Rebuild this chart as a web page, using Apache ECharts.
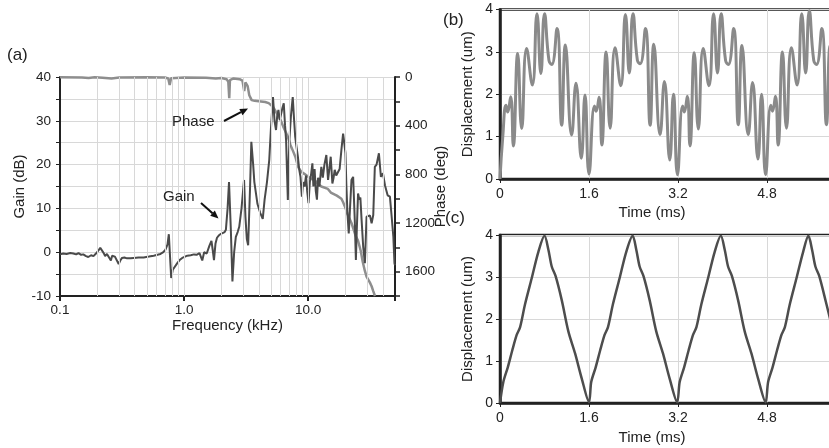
<!DOCTYPE html>
<html>
<head>
<meta charset="utf-8">
<script src="https://cdn.jsdelivr.net/npm/echarts@6/dist/echarts.min.js"></script>
<style>
  html, body { margin: 0; padding: 0; background: #fff; }
  #chart { width: 829px; height: 448px; }
</style>
</head>
<body>
<div id="chart"></div>
<script>
// (a) frequency response: [kHz, dB] and [kHz, deg]
const gainData = [
  [0.100,-0.5],[0.106,-0.3],[0.113,-0.4],[0.121,-0.2],[0.128,-0.3],[0.135,-0.5],[0.141,-0.2],[0.148,-0.6],
  [0.154,-0.5],[0.162,-0.9],[0.169,-1.1],[0.178,-0.7],[0.186,-0.9],[0.195,-0.3],[0.204,0.4],[0.211,1.0],
  [0.218,0.8],[0.225,-0.2],[0.231,-0.9],[0.239,-0.4],[0.246,-0.5],[0.257,-1.9],[0.263,-0.8],[0.270,-0.6],
  [0.277,-1.0],[0.284,-1.2],[0.297,-2.7],[0.306,-1.9],[0.316,-1.3],[0.330,-1.2],[0.347,-1.4],[0.370,-1.4],
  [0.392,-1.3],[0.430,-1.2],[0.472,-1.2],[0.520,-1.0],[0.569,-0.8],[0.610,-0.6],[0.645,-0.4],[0.680,0.0],
  [0.708,0.6],[0.735,1.8],[0.753,4.1],[0.770,-1.0],[0.787,-5.9],[0.810,-4.0],[0.826,-3.6],[0.881,-2.5],
  [0.920,-1.8],[0.966,-1.3],[1.061,-0.8],[1.130,-0.7],[1.200,-0.5],[1.260,-0.6],[1.330,-0.2],[1.400,-1.9],
  [1.450,0.0],[1.520,-0.3],[1.600,1.5],[1.660,2.6],[1.700,0.5],[1.740,-1.8],[1.790,2.0],[1.840,3.3],
  [1.900,3.8],[1.980,4.2],[2.050,4.0],[2.120,4.6],[2.170,5.1],[2.240,10.0],[2.300,16.0],[2.380,5.0],
  [2.450,-6.7],[2.530,0.0],[2.610,3.5],[2.700,4.6],[2.780,5.8],[2.900,10.0],[3.040,16.5],[3.120,8.0],
  [3.200,3.0],[3.280,1.6],[3.400,15.0],[3.480,25.2],[3.600,20.0],[3.680,16.0],[3.900,11.0],[4.100,9.0],
  [4.300,7.6],[4.450,12.0],[4.650,16.0],[4.850,21.0],[5.000,28.0],[5.200,35.4],[5.350,30.0],[5.500,27.9],
  [5.620,31.0],[5.750,32.5],[5.900,30.2],[6.050,30.5],[6.200,33.0],[6.350,34.0],[6.500,29.0],[6.630,25.6],
  [6.750,18.0],[6.850,11.9],[6.950,20.0],[7.060,26.0],[7.250,31.0],[7.500,35.4],[7.700,30.0],[7.850,26.4],
  [8.050,24.0],[8.250,21.8],[8.450,19.0],[8.660,17.2],[8.890,12.7],[9.100,16.0],[9.340,15.0],[9.600,17.5],
  [9.800,14.0],[10.05,11.2],[10.30,16.0],[10.57,18.0],[10.80,20.3],[11.00,15.0],[11.25,19.0],[11.50,14.0],
  [11.75,12.0],[12.00,17.0],[12.30,15.0],[12.75,19.5],[13.10,17.0],[13.50,20.0],[13.99,22.2],[14.44,16.5],
  [14.80,19.0],[15.17,21.8],[15.65,15.7],[16.00,17.0],[16.34,18.8],[16.80,17.5],[17.39,17.2],[17.90,19.0],
  [18.49,23.3],[19.09,27.1],[19.50,25.0],[19.94,22.6],[20.30,15.0],[20.70,8.9],[21.20,4.3],[21.70,10.0],
  [22.30,16.5],[23.00,17.2],[23.70,7.4],[24.20,-1.8],[24.60,5.0],[25.20,13.4],[25.80,12.0],[26.30,12.5],
  [26.90,7.4],[27.70,1.3],[28.60,-2.5],[29.50,8.1],[30.50,8.0],[31.40,8.4],[32.40,6.6],[33.40,8.5],
  [34.40,19.5],[35.50,20.0],[37.10,22.6],[38.50,17.2],[40.00,18.0],[41.50,15.3],[43.60,13.0],[45.50,12.7],
  [47.00,8.1],[48.50,3.5],[49.50,-2.5],[50.00,-3.0]
];
const phaseData = [
  [0.10,2],[0.15,4],[0.17,8],[0.19,3],[0.22,6],[0.26,12],[0.30,5],[0.50,3],[0.70,4],[0.745,12],[0.765,65],
  [0.785,10],[1.0,5],[1.5,6],[1.8,12],[2.0,8],[2.2,18],[2.27,40],[2.31,175],[2.34,25],[2.5,12],[2.8,18],
  [2.95,30],[3.05,115],[3.12,45],[3.25,75],[3.35,150],[3.5,190],[3.7,196],[4.0,200],[4.5,206],[4.8,215],
  [5.2,245],[5.6,300],[5.8,330],[6.0,355],[6.3,410],[6.5,440],[6.7,470],[6.85,493],[7.2,560],[7.5,603],
  [7.9,660],[8.3,741],[8.8,780],[9.3,796],[10.0,820],[10.6,837],[11.3,850],[12.0,878],[12.75,900],[14.4,920],
  [15.2,950],[17.0,975],[18.5,1000],[19.1,1030],[20.0,1080],[20.7,1126],[22.3,1200],[24.0,1300],[25.2,1346],
  [26.5,1430],[27.5,1520],[28.6,1594],[29.5,1640],[31.4,1690],[32.4,1720],[33.4,1760],[34.5,1800]
];
// log grid lines between the decades
const freqGrid = [0.2,0.3,0.4,0.5,0.6,0.7,0.8,0.9,1,2,3,4,5,6,7,8,9,10,20,30,40];

// (b) displacement with ringing, time in ms, um
const timeB = [
  0,0.05,0.108,0.138,0.192,0.24,0.318,0.39,0.479,0.581,0.665,0.735,0.80,0.88,0.93,1.025,1.109,1.175,1.288,1.366,1.462,1.528,1.6,
  1.698,1.728,1.782,1.83,1.908,1.98,2.069,2.171,2.255,2.325,2.39,2.47,2.52,2.615,2.699,2.765,2.878,2.956,3.052,3.118,3.19,
  3.283,3.313,3.367,3.415,3.493,3.565,3.654,3.756,3.84,3.91,3.975,4.055,4.105,4.2,4.284,4.35,4.463,4.541,4.637,4.703,4.775,
  4.868,4.898,4.952,5.0,5.078,5.15,5.239,5.341,5.425,5.495,5.56,5.64,5.69,5.785,5.869,5.935,6.048
];
const dispB = [
  0,1.0,1.74,1.58,1.94,0.78,2.96,1.19,3.08,2.22,3.9,2.49,3.9,2.8,2.7,3.55,1.27,3.16,1.04,2.26,0.49,1.98,0.12,
  1.72,1.6,1.93,0.8,3.0,1.2,3.1,2.2,3.88,2.5,3.9,2.8,2.72,3.55,1.27,3.18,1.05,2.3,0.45,2.0,0.1,
  1.72,1.58,1.95,0.78,2.98,1.18,3.08,2.2,3.9,2.5,3.9,2.8,2.7,3.55,1.28,3.15,1.05,2.28,0.47,2.0,0.1,
  1.74,1.6,1.95,0.8,3.0,1.2,3.1,2.22,3.9,2.5,3.97,2.8,2.7,3.55,1.28,3.15,1.05
];

// (c) triangle displacement
const timeC = [
  0,0.06,0.14,0.22,0.30,0.36,0.45,0.57,0.69,0.80,0.87,0.93,1.0,1.11,1.23,1.35,1.47,1.6,
  1.64,1.72,1.80,1.88,1.94,2.03,2.15,2.27,2.385,2.45,2.51,2.58,2.69,2.81,2.93,3.05,3.185,
  3.23,3.31,3.39,3.47,3.53,3.62,3.74,3.86,3.97,4.04,4.10,4.17,4.28,4.40,4.52,4.64,4.775,
  4.82,4.90,4.98,5.06,5.12,5.21,5.33,5.45,5.545,5.61,5.67,5.74,5.86,5.98
];
const dispC = [
  0,0.5,0.85,1.25,1.62,1.8,2.35,2.97,3.6,3.98,3.65,3.25,3.02,2.45,1.7,1.18,0.58,0.02,
  0.5,0.85,1.25,1.62,1.8,2.35,2.97,3.6,3.98,3.65,3.25,3.02,2.45,1.7,1.18,0.58,0.02,
  0.5,0.85,1.25,1.62,1.8,2.35,2.97,3.6,3.98,3.65,3.25,3.02,2.45,1.7,1.18,0.58,0.02,
  0.5,0.85,1.25,1.62,1.8,2.35,2.97,3.6,3.98,3.65,3.25,3.02,2.4,1.75
];

const FONT = 'Liberation Sans, Arial, sans-serif';
const INK = '#222';
const GRIDC = '#d8d8d8';

const pairs = (xs, ys) => xs.map((x, i) => [x, ys[i]]);

// small arrow for the annotations
function arrow(x1, y1, x2, y2) {
  const dx = x2 - x1, dy = y2 - y1, len = Math.hypot(dx, dy);
  const ux = dx / len, uy = dy / len, px = -uy, py = ux;
  const bx = x2 - ux * 8, by = y2 - uy * 8;
  return [
    { type: 'line', z: 100, shape: { x1, y1, x2: bx, y2: by }, style: { stroke: '#111', lineWidth: 2 } },
    { type: 'polygon', z: 100, shape: { points: [[x2, y2], [bx + px * 3.5, by + py * 3.5], [bx - px * 3.5, by - py * 3.5]] },
      style: { fill: '#111' } }
  ];
}
const txt = (text, x, y, size, align) => ({
  type: 'text', x, y, z: 100,
  style: { text, font: size + 'px ' + FONT, fill: INK, align: align || 'left', verticalAlign: 'middle' }
});

const tickLabel = { color: INK, fontSize: 14, fontFamily: FONT };
const tickLabelA = { color: INK, fontSize: 13.5, fontFamily: FONT };
const axLine = { show: true, onZero: false, lineStyle: { color: INK, width: 2 } };
const yName = { color: INK, fontSize: 15, fontFamily: FONT };

const chart = echarts.init(document.getElementById('chart'));
const option = {
  animation: false,
  backgroundColor: '#fff',
  grid: [
    { left: 60, top: 77, right: 434, bottom: 152, outerBoundsMode: 'none' },
    { left: 500, top: 9.5, right: -27, bottom: 269, outerBoundsMode: 'none',
      show: true, borderColor: INK, borderWidth: 2.5 },
    { left: 500, top: 235, right: -27, bottom: 45, outerBoundsMode: 'none',
      show: true, borderColor: INK, borderWidth: 2.5 }
  ],
  xAxis: [
    {
      gridIndex: 0, type: 'log', logBase: 10, min: 0.1, max: 50,
      axisLine: axLine, axisTick: { show: true, length: 5, lineStyle: { color: INK, width: 2 } },
      splitLine: { show: false },
      axisLabel: Object.assign({ margin: 7, formatter: v => {
        const l = Math.log10(v);
        return Math.abs(l - Math.round(l)) < 1e-6 ? v.toFixed(1) : '';
      } }, tickLabelA),
      name: 'Frequency (kHz)', nameLocation: 'middle', nameGap: 22, nameTextStyle: yName
    },
    {
      gridIndex: 1, type: 'value', min: 0, max: 6.4, interval: 1.6,
      axisLine: { show: true, onZero: false, lineStyle: { color: INK, width: 2.5 } },
      axisTick: { show: true, length: 4, lineStyle: { color: INK } },
      splitLine: { show: true, lineStyle: { color: GRIDC } },
      axisLabel: Object.assign({ margin: 8, formatter: v => v === 0 ? '0' : v.toFixed(1) }, tickLabel)
    },
    {
      gridIndex: 2, type: 'value', min: 0, max: 6.4, interval: 1.6,
      axisLine: { show: true, onZero: false, lineStyle: { color: INK, width: 2.5 } },
      axisTick: { show: true, length: 4, lineStyle: { color: INK } },
      splitLine: { show: true, lineStyle: { color: GRIDC } },
      axisLabel: Object.assign({ margin: 8, formatter: v => v === 0 ? '0' : v.toFixed(1) }, tickLabel)
    }
  ],
  yAxis: [
    {
      gridIndex: 0, type: 'value', min: -10, max: 40, interval: 5,
      axisLine: axLine, axisTick: { show: true, length: 4, lineStyle: { color: INK } },
      splitLine: { show: true, lineStyle: { color: GRIDC } },
      axisLabel: Object.assign({ margin: 9, formatter: v => v % 10 === 0 ? String(v) : '' }, tickLabelA),
      name: 'Gain (dB)', nameLocation: 'middle', nameGap: 31, nameRotate: 90, nameTextStyle: yName
    },
    {
      gridIndex: 0, type: 'value', position: 'right', inverse: true, min: 0, max: 1800, interval: 200,
      axisLine: axLine, axisTick: { show: true, length: 5, lineStyle: { color: INK, width: 1.5 } },
      splitLine: { show: false },
      axisLabel: Object.assign({ margin: 10, formatter: v => (v % 400 === 0 && v < 1800) ? String(v) : '' }, tickLabelA),
      name: 'Phase (deg)', nameLocation: 'middle', nameGap: 38, nameRotate: 90, nameMoveOverlap: false,
      nameTextStyle: yName
    },
    {
      gridIndex: 1, type: 'value', min: 0, max: 4, interval: 1,
      axisLine: { show: true, lineStyle: { color: INK, width: 2.5 } },
      axisTick: { show: true, length: 4, lineStyle: { color: INK } },
      splitLine: { show: true, lineStyle: { color: GRIDC } },
      axisLabel: Object.assign({ margin: 7 }, tickLabel),
      name: 'Displacement (um)', nameLocation: 'middle', nameGap: 25, nameRotate: 90, nameTextStyle: yName
    },
    {
      gridIndex: 2, type: 'value', min: 0, max: 4, interval: 1,
      axisLine: { show: true, lineStyle: { color: INK, width: 2.5 } },
      axisTick: { show: true, length: 4, lineStyle: { color: INK } },
      splitLine: { show: true, lineStyle: { color: GRIDC } },
      axisLabel: Object.assign({ margin: 7 }, tickLabel),
      name: 'Displacement (um)', nameLocation: 'middle', nameGap: 25, nameRotate: 90, nameTextStyle: yName
    }
  ],
  series: [
    {
      // minor log grid lines
      type: 'line', xAxisIndex: 0, yAxisIndex: 0, data: [], silent: true, z: 1,
      markLine: {
        silent: true, symbol: ['none', 'none'], label: { show: false },
        lineStyle: { color: GRIDC, type: 'solid', width: 1 },
        data: freqGrid.map(f => ({ xAxis: f }))
      }
    },
    {
      name: 'Phase', type: 'line', xAxisIndex: 0, yAxisIndex: 1, data: phaseData,
      showSymbol: false, lineStyle: { color: '#8e8e8e', width: 2.5 }, z: 3
    },
    {
      name: 'Gain', type: 'line', xAxisIndex: 0, yAxisIndex: 0, data: gainData,
      showSymbol: false, lineStyle: { color: '#4a4a4a', width: 2 }, z: 4
    },
    {
      type: 'line', xAxisIndex: 1, yAxisIndex: 2, data: pairs(timeB, dispB), smooth: 0.5,
      showSymbol: false, lineStyle: { color: '#8a8a8a', width: 3 }, clip: true
    },
    {
      type: 'line', xAxisIndex: 2, yAxisIndex: 3, data: pairs(timeC, dispC), smooth: 0.3,
      showSymbol: false, lineStyle: { color: '#4d4d4d', width: 2.5 }, clip: true
    }
  ],
  graphic: [
    txt('(a)', 7, 55, 17),
    txt('(b)', 443, 20, 17),
    txt('(c)', 445, 218, 17),
    txt('Phase', 172, 122, 15),
    txt('Gain', 163, 197, 15),
    txt('Time (ms)', 652, 213, 15, 'center'),
    txt('Time (ms)', 652, 438, 15, 'center')
  ].concat(arrow(224, 121, 248, 108.5), arrow(201, 203, 218.5, 218.5))
};
chart.setOption(option);
</script>
</body>
</html>
